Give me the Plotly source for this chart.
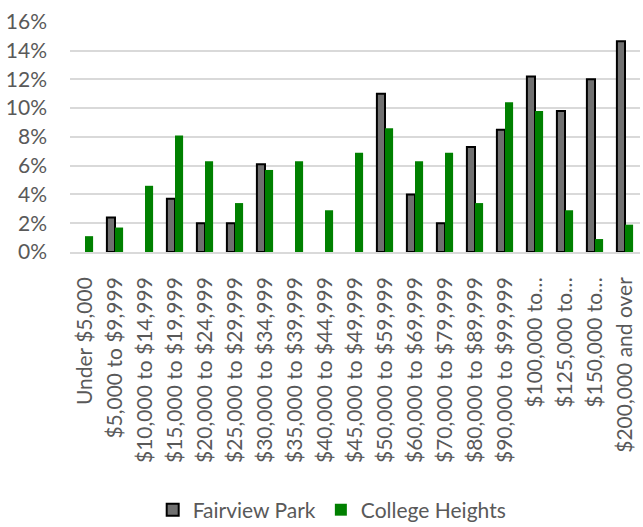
import plotly.graph_objects as go

categories = [
    "Under $5,000", "$5,000 to $9,999", "$10,000 to $14,999", "$15,000 to $19,999",
    "$20,000 to $24,999", "$25,000 to $29,999", "$30,000 to $34,999", "$35,000 to $39,999",
    "$40,000 to $44,999", "$45,000 to $49,999", "$50,000 to $59,999", "$60,000 to $69,999",
    "$70,000 to $79,999", "$80,000 to $89,999", "$90,000 to $99,999", "$100,000 to…",
    "$125,000 to…", "$150,000 to…", "$200,000 and over",
]
# None = no bar shown for that bracket
fairview_park = [None, 2.4, None, 3.7, 2.0, 2.0, 6.1, None, None, None, 11.0, 4.0, 2.0, 7.3,
                 8.5, 12.2, 9.8, 12.0, 14.65]
college_heights = [1.1, 1.7, 4.6, 8.1, 6.3, 3.4, 5.7, 6.3, 2.9, 6.9, 8.6, 6.3, 6.9, 3.4,
                   10.4, 9.8, 2.9, 0.9, 1.9]
y_ticks = [0, 2, 4, 6, 8, 10, 12, 14, 16]
y_tick_labels = [f"{v}%" for v in y_ticks]

FONT = "Lato"
GRAY = "#595959"

fig = go.Figure()
fig.add_trace(go.Bar(
    name="Fairview Park", x=categories, y=fairview_park,
    marker=dict(color="black", line=dict(color="black", width=2),
                pattern=dict(shape=".", fgcolor="white", bgcolor="black",
                             size=2, solidity=0.5, fillmode="replace")),
))
fig.add_trace(go.Bar(
    name="College Heights", x=categories, y=college_heights,
    marker=dict(color="#008000", line=dict(width=0)),
))

fig.update_layout(
    width=643, height=527,
    margin=dict(l=70, r=3, t=21, b=275, autoexpand=False),
    paper_bgcolor="white", plot_bgcolor="white",
    barmode="group", bargap=0.46, bargroupgap=0,
    font=dict(family=FONT, color=GRAY, size=21),
    showlegend=True,
    legend=dict(orientation="h", x=0.46, xanchor="center", y=-1.117, yanchor="middle",
                font=dict(family=FONT, size=21, color=GRAY),
                traceorder="normal"),
)
fig.update_xaxes(
    tickangle=-90, tickfont=dict(family=FONT, size=21, color=GRAY),
    showline=True, linecolor="#d9d9d9", linewidth=1.5,
    ticks="", ticklabelstandoff=15, showgrid=False, automargin=False,
)
fig.update_yaxes(
    range=[0, 16.05], tickvals=y_ticks, ticktext=y_tick_labels,
    tickfont=dict(family=FONT, size=21, color=GRAY),
    showgrid=True, gridcolor="#d9d9d9", gridwidth=1.5,
    zeroline=False, showline=False, ticks="", ticklabelstandoff=22, automargin=False,
)

fig.write_html("out.html", config={"displayModeBar": False},
               post_script="document.body.style.margin='0';")
